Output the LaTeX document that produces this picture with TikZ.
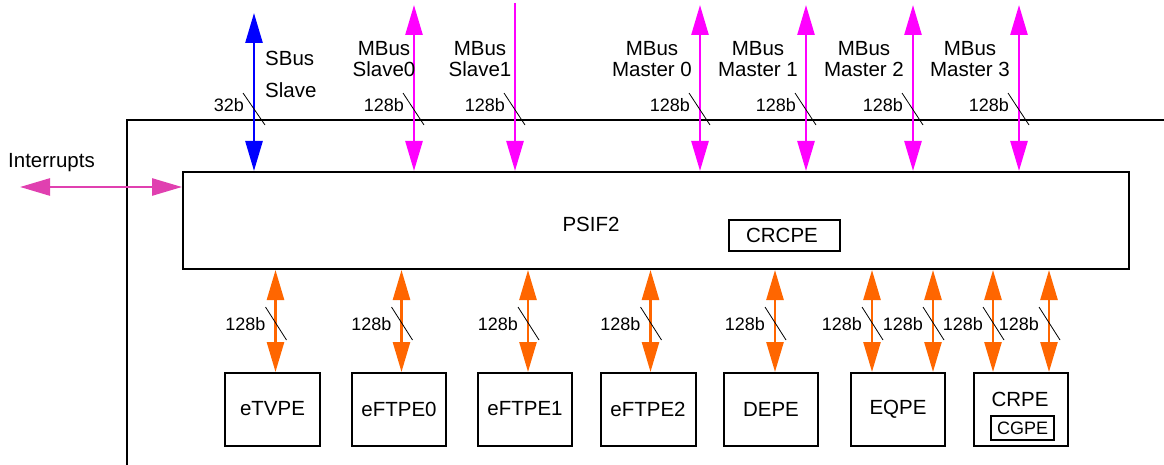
\documentclass[tikz,border=0pt]{standalone}
\usepackage{fontspec}
\setmainfont{Liberation Sans}
\usetikzlibrary{arrows.meta}
\definecolor{sbus}{RGB}{0,0,255}
\definecolor{mbus}{RGB}{255,0,255}
\definecolor{pebus}{RGB}{255,102,0}
\definecolor{intr}{RGB}{224,64,176}
\tikzset{
  tip/.tip={Triangle[length=30pt,width=17pt]},
  sig/.style={line width=2.6pt},
  both/.style={sig,tip-tip},
  box/.style={draw,line width=2pt,inner sep=0pt},
  txt/.style={font=\fontsize{20.5}{21}\selectfont,inner sep=0pt},
  wtxt/.style={font=\fontsize{18}{20}\selectfont,inner sep=0pt},
  slash/.style={line width=0.8pt},
}
\begin{document}
\begin{tikzpicture}[x=1pt,y=-1pt]
\useasboundingbox (0,0) rectangle (1164,465);
% outer frame
\draw[line width=2pt] (126.5,465) -- (126.5,120) -- (1164,120);
% PSIF2
\node[box,minimum width=946pt,minimum height=97pt] (psif) at (656,220.5) {};
\node[txt] (psiftxt) at (591,224) {PSIF2};
\node[box,minimum width=111pt,minimum height=31pt,txt] (crcpe) at (784.5,235) {};
\node[txt] (crcpetxt) at (782,235) {CRCPE};
% interrupts
\node[txt,anchor=west] (intlbl) at (8,163) {Interrupts};
\coordinate (intend) at (20,187);
\draw[both,intr] (intend) -- (psif.west |- intend);
% top buses
\coordinate (sb) at (254,13);
\draw[both,sbus] (sb) -- (psif.north -| sb);
\node[txt,anchor=west] (sbl1) at (265,58) {SBus};
\node[txt,anchor=west] (sbl2) at (265,90) {Slave};
\draw[slash] (243,93) -- (265,125);
\node[wtxt,anchor=east] (w0) at (244,105) {32b};
\foreach \n/\x/\cx/\la/\lb in {s0/414/384/MBus/Slave0, m0/700/652/MBus/Master 0, m1/806/758/MBus/Master 1, m2/913/864/MBus/Master 2, m3/1019/970/MBus/Master 3}{
  \coordinate (\n) at (\x,5);
  \draw[both,mbus] (\n) -- (psif.north -| \n);
  \node[txt,align=center,font=\fontsize{20.5}{21}\selectfont] (\n lbl) at (\cx,59) {\la\\\lb};
  \draw[slash] (\x-11,93) -- (\x+10,125);
  \node[wtxt,anchor=east] (\n w) at (\x-10,105) {128b};
}
\coordinate (s1) at (515,3);
\draw[sig,-tip,mbus] (s1) -- (psif.north -| s1);
\node[txt,align=center,font=\fontsize{20.5}{21}\selectfont] (s1lbl) at (480,59) {MBus\\Slave1};
\draw[slash] (504,93) -- (525,125);
\node[wtxt,anchor=east] (s1w) at (505,105) {128b};
% PE boxes
\foreach \n/\x/\w/\t in {etv/272.5/95/eTVPE, ef0/399/94/eFTPE0, ef1/525/94/eFTPE1, ef2/648/95/eFTPE2, de/771/94/DEPE, eq/898/94/EQPE}{
  \node[box,minimum width=\w pt,minimum height=73pt] (\n) at (\x,409.5) {};
  \node[txt] (\n txt) at (\x,409) {\t};
}
\node[box,minimum width=94pt,minimum height=73pt] (cr) at (1021,409.5) {};
\node[txt] (crtxt) at (1020,399) {CRPE};
\node[box,minimum width=63pt,minimum height=24pt] (cg) at (1022.5,427.5) {};
\node[wtxt] (cgtxt) at (1022.5,428) {CGPE};
% PE buses
\foreach \n/\x/\b in {a/275.5/etv, b/401.5/ef0, c/528/ef1, d/650.5/ef2, e/775/de, f/872/eq, g/933/eq, h/993/cr, i/1049/cr}{
  \coordinate (p\n) at (\x,0);
  \draw[both,pebus] (psif.south -| p\n) -- (\b.north -| p\n);
  \draw[slash] (\x-10,307) -- (\x+11,340);
  \node[wtxt,anchor=east] (w\n) at (\x-10,324) {128b};
}
\end{tikzpicture}
\end{document}
